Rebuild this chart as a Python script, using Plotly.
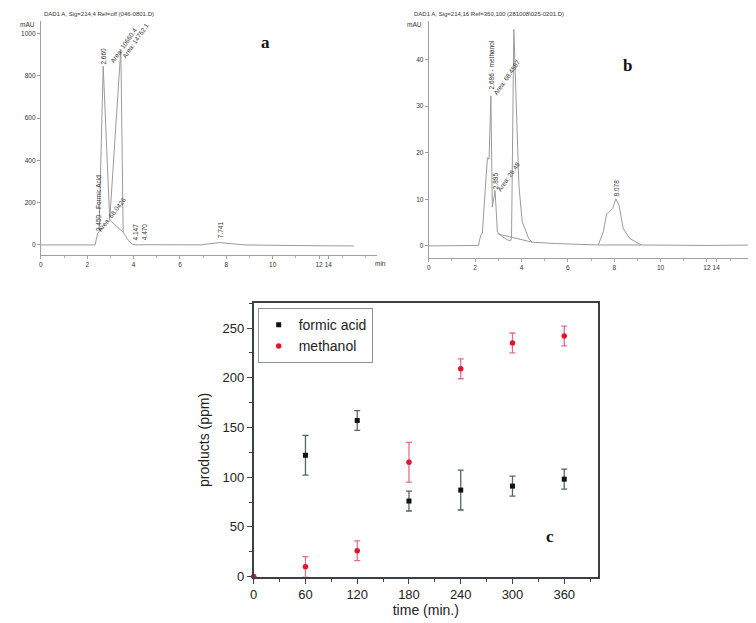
import plotly.graph_objects as go

W, H = 756, 623

# ---------------- Panel a chromatogram (time min, mAU) ----------------
a_time = [0, 2.34, 2.45, 2.51, 2.69, 2.97, 3.45, 3.55, 3.62, 3.75, 3.95, 4.1, 4.5, 6.9, 7.3, 7.71, 8.2, 8.8, 11.0, 13.5]
a_signal = [0, 0, 55, 62, 845, 118, 926, 60, 48, 25, 3, 0, 1, 0, 6, 11, 6, 0, -3, -5]
a_skim_time = [2.97, 3.55]
a_skim_signal = [118, 60]
a_ytick = [0, 200, 400, 600, 800, 1000]
a_xtickvals = [0, 2, 4, 6, 8, 10, 12, 12.4]
a_xticktext = ["0", "2", "4", "6", "8", "10", "12", "14"]

# ---------------- Panel b chromatogram ----------------
b_time = [0, 2.14, 2.24, 2.31, 2.53, 2.6, 2.68, 2.74, 2.86, 2.96, 3.17, 3.39, 3.53, 3.57, 3.67, 3.72, 3.81,
          3.89, 4.03, 4.31, 4.46, 5.5, 7.31, 7.53, 7.67, 7.81, 7.93, 8.07, 8.21, 8.39, 8.67, 9.03, 9.17, 12.0, 14.4]
b_signal = [0, 0.1, 2.3, 2.7, 18.9, 18.6, 32.2, 8.3, 11.9, 3, 2, 1.3, 1.1, 1.6, 46.5, 40, 25,
            12.9, 5.2, 1.6, 0.8, 0.5, 0.2, 3, 6.9, 7.4, 8, 10.1, 8.7, 3.7, 1.6, 0.6, 0.2, 0.1, 0.2]
b_skim1_time = [2.96, 4.46]
b_skim1_signal = [2.6, 0.8]
b_skim2_time = [7.31, 9.17]
b_skim2_signal = [0.2, 0.2]
b_ytick = [0, 10, 20, 30, 40]

# ---------------- Panel c products ----------------
c_time = [60, 120, 180, 240, 300, 360]
formic_acid = [122, 157, 76, 87, 91, 98]
formic_err = [20, 10, 10, 20, 10, 10]
meth_time = [0, 60, 120, 180, 240, 300, 360]
methanol = [0, 10, 26, 115, 209, 235, 242]
meth_err = [0, 10, 10, 20, 10, 10, 10]
c_xtick = [0, 60, 120, 180, 240, 300, 360]
c_ytick = [0, 50, 100, 150, 200, 250]


def px(x):
    return x / W


def py(y):
    return 1 - y / H


LINE = "#9a9a9a"
SMALL = dict(family="Liberation Sans, Arial, sans-serif", size=6.5, color="#333")

fig = go.Figure()

# panel a traces
fig.add_trace(go.Scatter(x=a_time, y=a_signal, mode="lines", line=dict(color=LINE, width=1),
                         xaxis="x", yaxis="y", showlegend=False, hoverinfo="skip"))
fig.add_trace(go.Scatter(x=a_skim_time, y=a_skim_signal, mode="lines", line=dict(color=LINE, width=1),
                         xaxis="x", yaxis="y", showlegend=False, hoverinfo="skip"))
# panel b traces
fig.add_trace(go.Scatter(x=b_time, y=b_signal, mode="lines", line=dict(color=LINE, width=1),
                         xaxis="x2", yaxis="y2", showlegend=False, hoverinfo="skip"))
fig.add_trace(go.Scatter(x=b_skim1_time, y=b_skim1_signal, mode="lines", line=dict(color=LINE, width=1),
                         xaxis="x2", yaxis="y2", showlegend=False, hoverinfo="skip"))
fig.add_trace(go.Scatter(x=b_skim2_time, y=b_skim2_signal, mode="lines", line=dict(color=LINE, width=1),
                         xaxis="x2", yaxis="y2", showlegend=False, hoverinfo="skip"))
# panel c traces
fig.add_trace(go.Scatter(x=c_time, y=formic_acid, mode="markers", name="formic acid",
                         marker=dict(symbol="square", size=5, color="#111"),
                         error_y=dict(type="data", array=formic_err, color="#556566", thickness=1.3, width=3),
                         xaxis="x3", yaxis="y3", cliponaxis=False))
fig.add_trace(go.Scatter(x=meth_time, y=methanol, mode="markers", name="methanol",
                         marker=dict(symbol="circle", size=5.5, color="#e8112d"),
                         error_y=dict(type="data", array=meth_err, color="#e0708a", thickness=1.3, width=3),
                         xaxis="x3", yaxis="y3", cliponaxis=False))

chrom_axis = dict(showgrid=False, zeroline=False, showline=True, linecolor="#a0a0a0", linewidth=1,
                  ticks="outside", ticklen=3, tickcolor="#a0a0a0", tickfont=SMALL)

fig.update_layout(
    width=W, height=H, margin=dict(l=0, r=0, t=0, b=0),
    plot_bgcolor="white", paper_bgcolor="white",
    font=dict(family="Liberation Sans, Arial, sans-serif", color="#222"),
    xaxis=dict(domain=[px(29), px(367)], range=[0, 14.5], anchor="y",
               tickvals=a_xtickvals, ticktext=a_xticktext, tickangle=0,
               minor=dict(dtick=1, ticks="outside", ticklen=2, tickcolor="#aaa"), **chrom_axis),
    yaxis=dict(domain=[py(250), py(13)], range=[-46.7, 1060], anchor="x",
               tickvals=a_ytick, **chrom_axis),
    xaxis2=dict(domain=[px(419), px(755)], range=[0, 14.42], anchor="y2",
                tickvals=a_xtickvals, ticktext=a_xticktext, tickangle=0,
                minor=dict(dtick=1, ticks="outside", ticklen=2, tickcolor="#aaa"), **chrom_axis),
    yaxis2=dict(domain=[py(253), py(13)], range=[-2.54, 48.3], anchor="x2",
                tickvals=b_ytick, **chrom_axis),
    xaxis3=dict(domain=[px(243), px(589)], range=[0, 399], anchor="y3",
                tickvals=c_xtick, tickangle=0, showgrid=False, zeroline=False, showline=True, mirror=True,
                linecolor="#3c4042", linewidth=1.8, ticks="outside", ticklen=5, tickwidth=1.2,
                tickcolor="#3c4042",
                minor=dict(tickvals=[30, 90, 150, 210, 270, 330, 390], ticks="outside", ticklen=3,
                           tickcolor="#3c4042"),
                tickfont=dict(size=13, color="#222"),
                title=dict(text="time (min.)", font=dict(size=14, color="#222"), standoff=4)),
    yaxis3=dict(domain=[py(576), py(299)], range=[0, 275], anchor="x3",
                tickvals=c_ytick, showgrid=False, zeroline=False, showline=True, mirror=True,
                linecolor="#3c4042", linewidth=1.8, ticks="outside", ticklen=5, tickwidth=1.2,
                tickcolor="#3c4042",
                minor=dict(tickvals=[25, 75, 125, 175, 225, 275], ticks="outside", ticklen=3,
                           tickcolor="#3c4042"),
                tickfont=dict(size=13, color="#222"),
                title=dict(text="products (ppm)", font=dict(size=14, color="#222"), standoff=10)),
    legend=dict(x=px(247), y=py(304), xanchor="left", yanchor="top",
                bordercolor="#8a9498", borderwidth=1, bgcolor="white",
                font=dict(size=14, color="#222"), tracegroupgap=0, itemwidth=30),
)

ann = []
# headers
ann.append(dict(x=px(30), y=py(6), xref="paper", yref="paper", xanchor="left", yanchor="middle",
                text="DAD1 A, Sig=214,4 Ref=off (046-0801.D)", showarrow=False,
                font=dict(family="Liberation Sans, Arial", size=6, color="#333")))
ann.append(dict(x=px(402), y=py(6), xref="paper", yref="paper", xanchor="left", yanchor="middle",
                text="DAD1 A, Sig=214,16 Ref=360,100 (281008\\025-0201.D)", showarrow=False,
                font=dict(family="Liberation Sans, Arial", size=6, color="#333")))
# mAU
ann.append(dict(x=px(25), y=py(17), xref="paper", yref="paper", xanchor="right", yanchor="middle",
                text="mAU", showarrow=False, font=SMALL))
ann.append(dict(x=px(414), y=py(17), xref="paper", yref="paper", xanchor="right", yanchor="middle",
                text="mAU", showarrow=False, font=SMALL))
ann.append(dict(x=px(370), y=py(259), xref="paper", yref="paper", xanchor="center", yanchor="middle",
                text="min", showarrow=False, font=SMALL))
# panel letters
LET = dict(family="Liberation Serif, Times New Roman, serif", size=17, color="#111")
ann.append(dict(x=px(255), y=py(23), xref="paper", yref="paper", text="<b>a</b>", showarrow=False, font=LET))
ann.append(dict(x=px(625), y=py(47), xref="paper", yref="paper", text="<b>b</b>", showarrow=False, font=LET))
ann.append(dict(x=px(547), y=py(547), xref="paper", yref="paper", text="<b>c</b>", showarrow=False, font=LET))

# peak labels panel a (data coords)
a_labels = [("2.450 - Formic Acid", 2.49, 196, -90), ("2.660", 2.70, 893, -90),
            ("Area: 10660.4", 3.56, 944, -55), ("3.449", 3.43, 1075, -90),
            ("Area: 14752.1", 4.08, 967, -55), ("Area: 68.0426", 3.05, 145, -52),
            ("4.147", 4.08, 61, -90), ("4.470", 4.46, 61, -90), ("7.741", 7.73, 70, -90)]
for t, x, y, ang in a_labels:
    ann.append(dict(x=x, y=y, xref="x", yref="y", text=t, textangle=ang, showarrow=False, font=SMALL))

b_labels = [("2.686 - methanol", 2.70, 38.8, -90), ("Area: 68.4587", 3.35, 36.2, -55),
            ("3.672", 3.69, 49.4, -90), ("2.895", 2.88, 14.0, -90),
            ("Area: 26.48", 3.43, 15.0, -55), ("8.078", 8.11, 12.5, -90)]
for t, x, y, ang in b_labels:
    ann.append(dict(x=x, y=y, xref="x2", yref="y2", text=t, textangle=ang, showarrow=False, font=SMALL))

fig.update_layout(annotations=ann)

fig.write_html("out.html")
